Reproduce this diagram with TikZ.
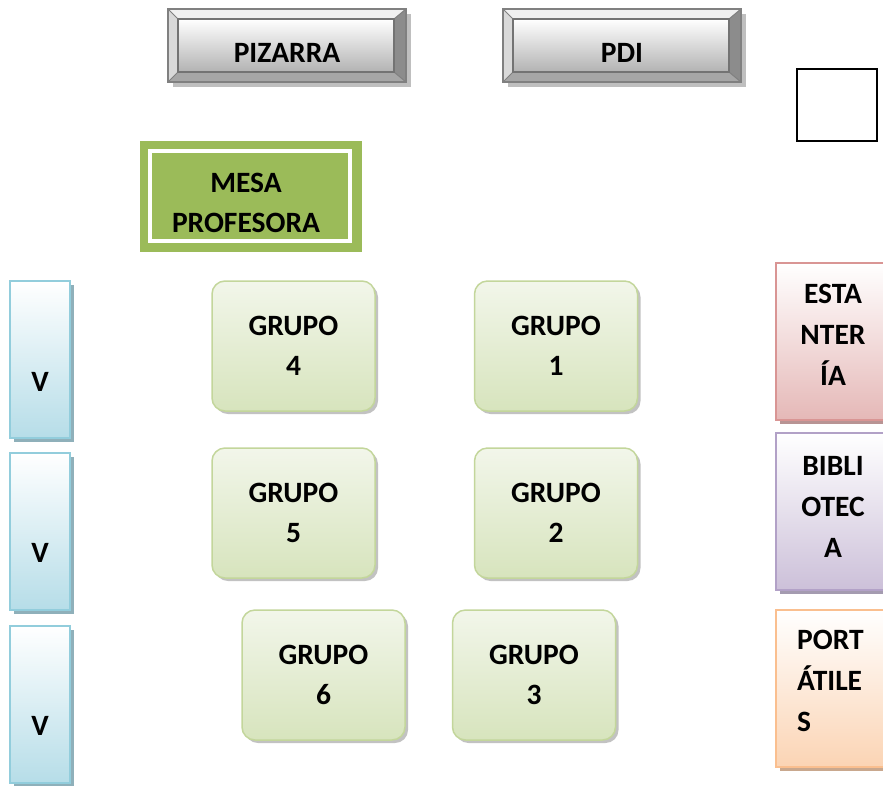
\documentclass[tikz,border=0pt]{standalone}
\usepackage{fontspec}
\setmainfont{Carlito}
\usetikzlibrary{shadows}
\definecolor{grpB}{HTML}{C3D69B}
\definecolor{grpT}{HTML}{F2F6EA}
\definecolor{grpF}{HTML}{D7E4BD}
\definecolor{vB}{HTML}{92CDDC}
\definecolor{vF}{HTML}{B6DDE8}
\definecolor{vS}{HTML}{8FB0BA}
\definecolor{eB}{HTML}{D99594}
\definecolor{eF}{HTML}{E5B8B7}
\definecolor{eS}{HTML}{B89494}
\definecolor{bB}{HTML}{B2A1C7}
\definecolor{bF}{HTML}{CCC0D9}
\definecolor{bS}{HTML}{A49BB0}
\definecolor{pB}{HTML}{FABF8F}
\definecolor{pF}{HTML}{FBD4B4}
\definecolor{pS}{HTML}{C9A88E}
\definecolor{mesaG}{HTML}{9BBB59}
\begin{document}
\begin{tikzpicture}[x=1pt,y=-1pt,
  txt/.style={font=\fontsize{29.5}{40}\selectfont\bfseries, align=center, inner sep=0pt},
  txtr/.style={font=\fontsize{29.5}{41}\selectfont\bfseries, align=center, inner sep=0pt},
  grupo/.style={draw=grpB, line width=1.5pt, rounded corners=13pt, top color=grpT, bottom color=grpF,
    drop shadow={shadow xshift=3pt, shadow yshift=-3pt, fill=black!40, opacity=0.6},
    minimum width=163pt, minimum height=130pt, inner sep=0pt, txt},
  sidebox/.style={line width=1.5pt, top color=white, minimum width=60pt, minimum height=157pt, inner sep=0pt},
  vbox/.style={sidebox, draw=vB, bottom color=vF,
    drop shadow={shadow xshift=4pt, shadow yshift=-4pt, fill=vS, opacity=1}},
  rbox/.style={line width=1.5pt, top color=white, minimum width=114pt, minimum height=157pt, inner sep=0pt},
  bevel/.style={draw=black!50, line width=1pt}
]
\useasboundingbox (0,0) rectangle (883,785);
\clip (0,0) rectangle (883,785);

% PIZARRA
\fill[black!25] (173,14) rectangle (411,87);
\node[draw=black!50, line width=2.5pt, fill=black!30, minimum width=238pt, minimum height=73pt, inner sep=0pt] (piz) at (287,45.5) {};
\fill[black!6] (168,9) -- (406,9) -- (394,19) -- (178,19) -- cycle;
\fill[black!15] (168,9) -- (178,19) -- (178,72) -- (168,82) -- cycle;
\fill[black!45] (406,9) -- (394,19) -- (394,72) -- (406,82) -- cycle;
\fill[black!35] (168,82) -- (178,72) -- (394,72) -- (406,82) -- cycle;
\draw[bevel] (168,9) -- (178,19) (406,9) -- (394,19) (168,82) -- (178,72) (406,82) -- (394,72);
\draw[black!50, line width=2.5pt] (168,9) rectangle (406,82);
\draw[black!55, line width=2pt, top color=white, bottom color=black!30] (178,19) rectangle (394,72);
\node[txt] (pizt) at (287,52.5) {PIZARRA};

% PDI
\fill[black!25] (508,14) rectangle (746,87);
\node[draw=black!50, line width=2.5pt, fill=black!30, minimum width=238pt, minimum height=73pt, inner sep=0pt] (pdi) at (622,45.5) {};
\fill[black!6] (503,9) -- (741,9) -- (729,19) -- (513,19) -- cycle;
\fill[black!15] (503,9) -- (513,19) -- (513,72) -- (503,82) -- cycle;
\fill[black!45] (741,9) -- (729,19) -- (729,72) -- (741,82) -- cycle;
\fill[black!35] (503,82) -- (513,72) -- (729,72) -- (741,82) -- cycle;
\draw[bevel] (503,9) -- (513,19) (741,9) -- (729,19) (503,82) -- (513,72) (741,82) -- (729,72);
\draw[black!50, line width=2.5pt] (503,9) rectangle (741,82);
\draw[black!55, line width=2pt, top color=white, bottom color=black!30] (513,19) rectangle (729,72);
\node[txt] (pdit) at (622,52.5) {PDI};

% small square
\node[draw=black, line width=2pt, minimum width=80pt, minimum height=72pt, inner sep=0pt] (sq) at (836.5,104.5) {};

% MESA PROFESORA
\node[fill=mesaG, minimum width=222pt, minimum height=111pt, inner sep=0pt] (mesa) at (251,196.5) {};
\draw[white, line width=3.5pt] ([shift={(10,10)}]mesa.north west) rectangle ([shift={(-12,-11)}]mesa.south east);
\node[txt] (mesat) at (246,203) {MESA\\PROFESORA};

% GRUPOS
\node[grupo] (g4) at (293.5,346) {GRUPO\\4};
\node[grupo] (g1) at (556,346) {GRUPO\\1};
\node[grupo] (g5) at (293.5,513) {GRUPO\\5};
\node[grupo] (g2) at (556,513) {GRUPO\\2};
\node[grupo] (g6) at (323.5,675) {GRUPO\\6};
\node[grupo] (g3) at (534,675) {GRUPO\\3};

% V boxes
\node[vbox] (v1) at (40,359.5) {};
\node[vbox] (v2) at (40,531.5) {};
\node[vbox] (v3) at (40,704.5) {};
\node[txt] (v1t) at (40,382) {V};
\node[txt] (v2t) at (40,553) {V};
\node[txt] (v3t) at (40,726) {V};

% right boxes
\node[rbox, draw=eB, bottom color=eF, drop shadow={shadow xshift=4pt, shadow yshift=-4pt, fill=eS, opacity=1}] (est) at (833,341.5) {};
\node[rbox, draw=bB, bottom color=bF, drop shadow={shadow xshift=4pt, shadow yshift=-4pt, fill=bS, opacity=1}] (bib) at (833,511.5) {};
\node[rbox, draw=pB, bottom color=pF, drop shadow={shadow xshift=4pt, shadow yshift=-4pt, fill=pS, opacity=1}] (por) at (833,688.5) {};
\node[txtr] (estt) at (833,334.5) {ESTA\\NTER\\ÍA};
\node[txtr] (bibt) at (833,506.5) {BIBLI\\OTEC\\A};
\node[txtr, align=left, anchor=west] (port) at (797,680.5) {PORT\\ÁTILE\\S};
\end{tikzpicture}
\end{document}
